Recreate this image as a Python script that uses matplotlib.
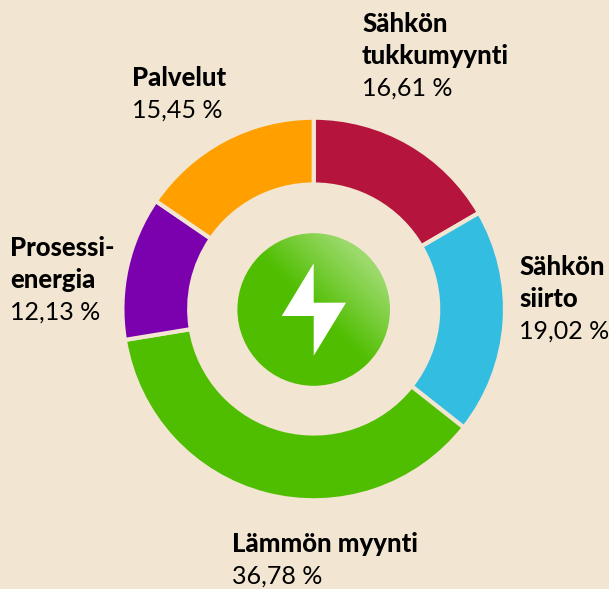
import numpy as np
import matplotlib
matplotlib.use("Agg")
import matplotlib.pyplot as plt
from matplotlib.patches import Polygon, Circle

labels = [["Sähkön", "tukkumyynti"], ["Sähkön", "siirto"], ["Lämmön myynti"], ["Prosessi-", "energia"], ["Palvelut"]]
values_text = ["16,61 %", "19,02 %", "36,78 %", "12,13 %", "15,45 %"]
values = [16.61, 19.02, 36.78, 12.13, 15.45]
colors = ["#B5153C", "#33BDE0", "#50BE00", "#7B00AE", "#FFA000"]
bg = "#F2E6D2"
W, H = 609, 589
plt.rcParams['font.family'] = ['Lato', 'DejaVu Sans']

fig = plt.figure(figsize=(W/100, H/100), dpi=100, facecolor=bg)
ax = fig.add_axes([0, 0, 1, 1])
cx, cy, R = 313.7, 309, 191.3
ax.pie(values, colors=colors, startangle=90, counterclock=False, center=(cx, -cy), radius=R,
       wedgeprops=dict(width=66.8, edgecolor=bg, linewidth=3), frame=False)

# icon circle gradient
r = 76.3; icx, icy = 313.7, 309.5
g = np.linspace(0, 1, 256)
xx, yy = np.meshgrid(g, g)
t = np.clip(((xx + yy) / 2 - 0.5) / 0.33, 0, 1)
c0 = np.array([0x50, 0xBE, 0x00])/255; c1 = np.array([0x9C, 0xDA, 0x6C])/255
img = c0[None, None, :] * (1 - t[..., None]) + c1[None, None, :] * t[..., None]
im = ax.imshow(img, extent=(icx-r, icx+r, -icy-r, -icy+r), origin='lower', zorder=3)
im.set_clip_path(Circle((icx, -icy), r, transform=ax.transData))
bolt = [(313.7, 263.3), (281.7, 316), (313.7, 316), (313.7, 355.7), (346, 302.7), (313.7, 302.7)]
ax.add_patch(Polygon([(x, -y) for x, y in bolt], fc='white', ec='none', zorder=4))
ax.set_xlim(0, W); ax.set_ylim(-H, 0); ax.set_aspect('auto'); ax.axis('off')

label_x = [362, 519, 232, 10, 132]
value_baseline = [96, 339, 584, 320, 118]
for x, base, lines, v in zip(label_x, value_baseline, labels, values_text):
    n = len(lines)
    for i, l in enumerate(lines):
        ax.text(x, -(base - 32*(n - i)), l, fontsize=18.5, fontweight='black', color='black',
                va='baseline', ha='left')
    ax.text(x, -base, v, fontsize=18, color='black', va='baseline', ha='left')

fig.savefig("out.png", dpi=100, facecolor=bg)
